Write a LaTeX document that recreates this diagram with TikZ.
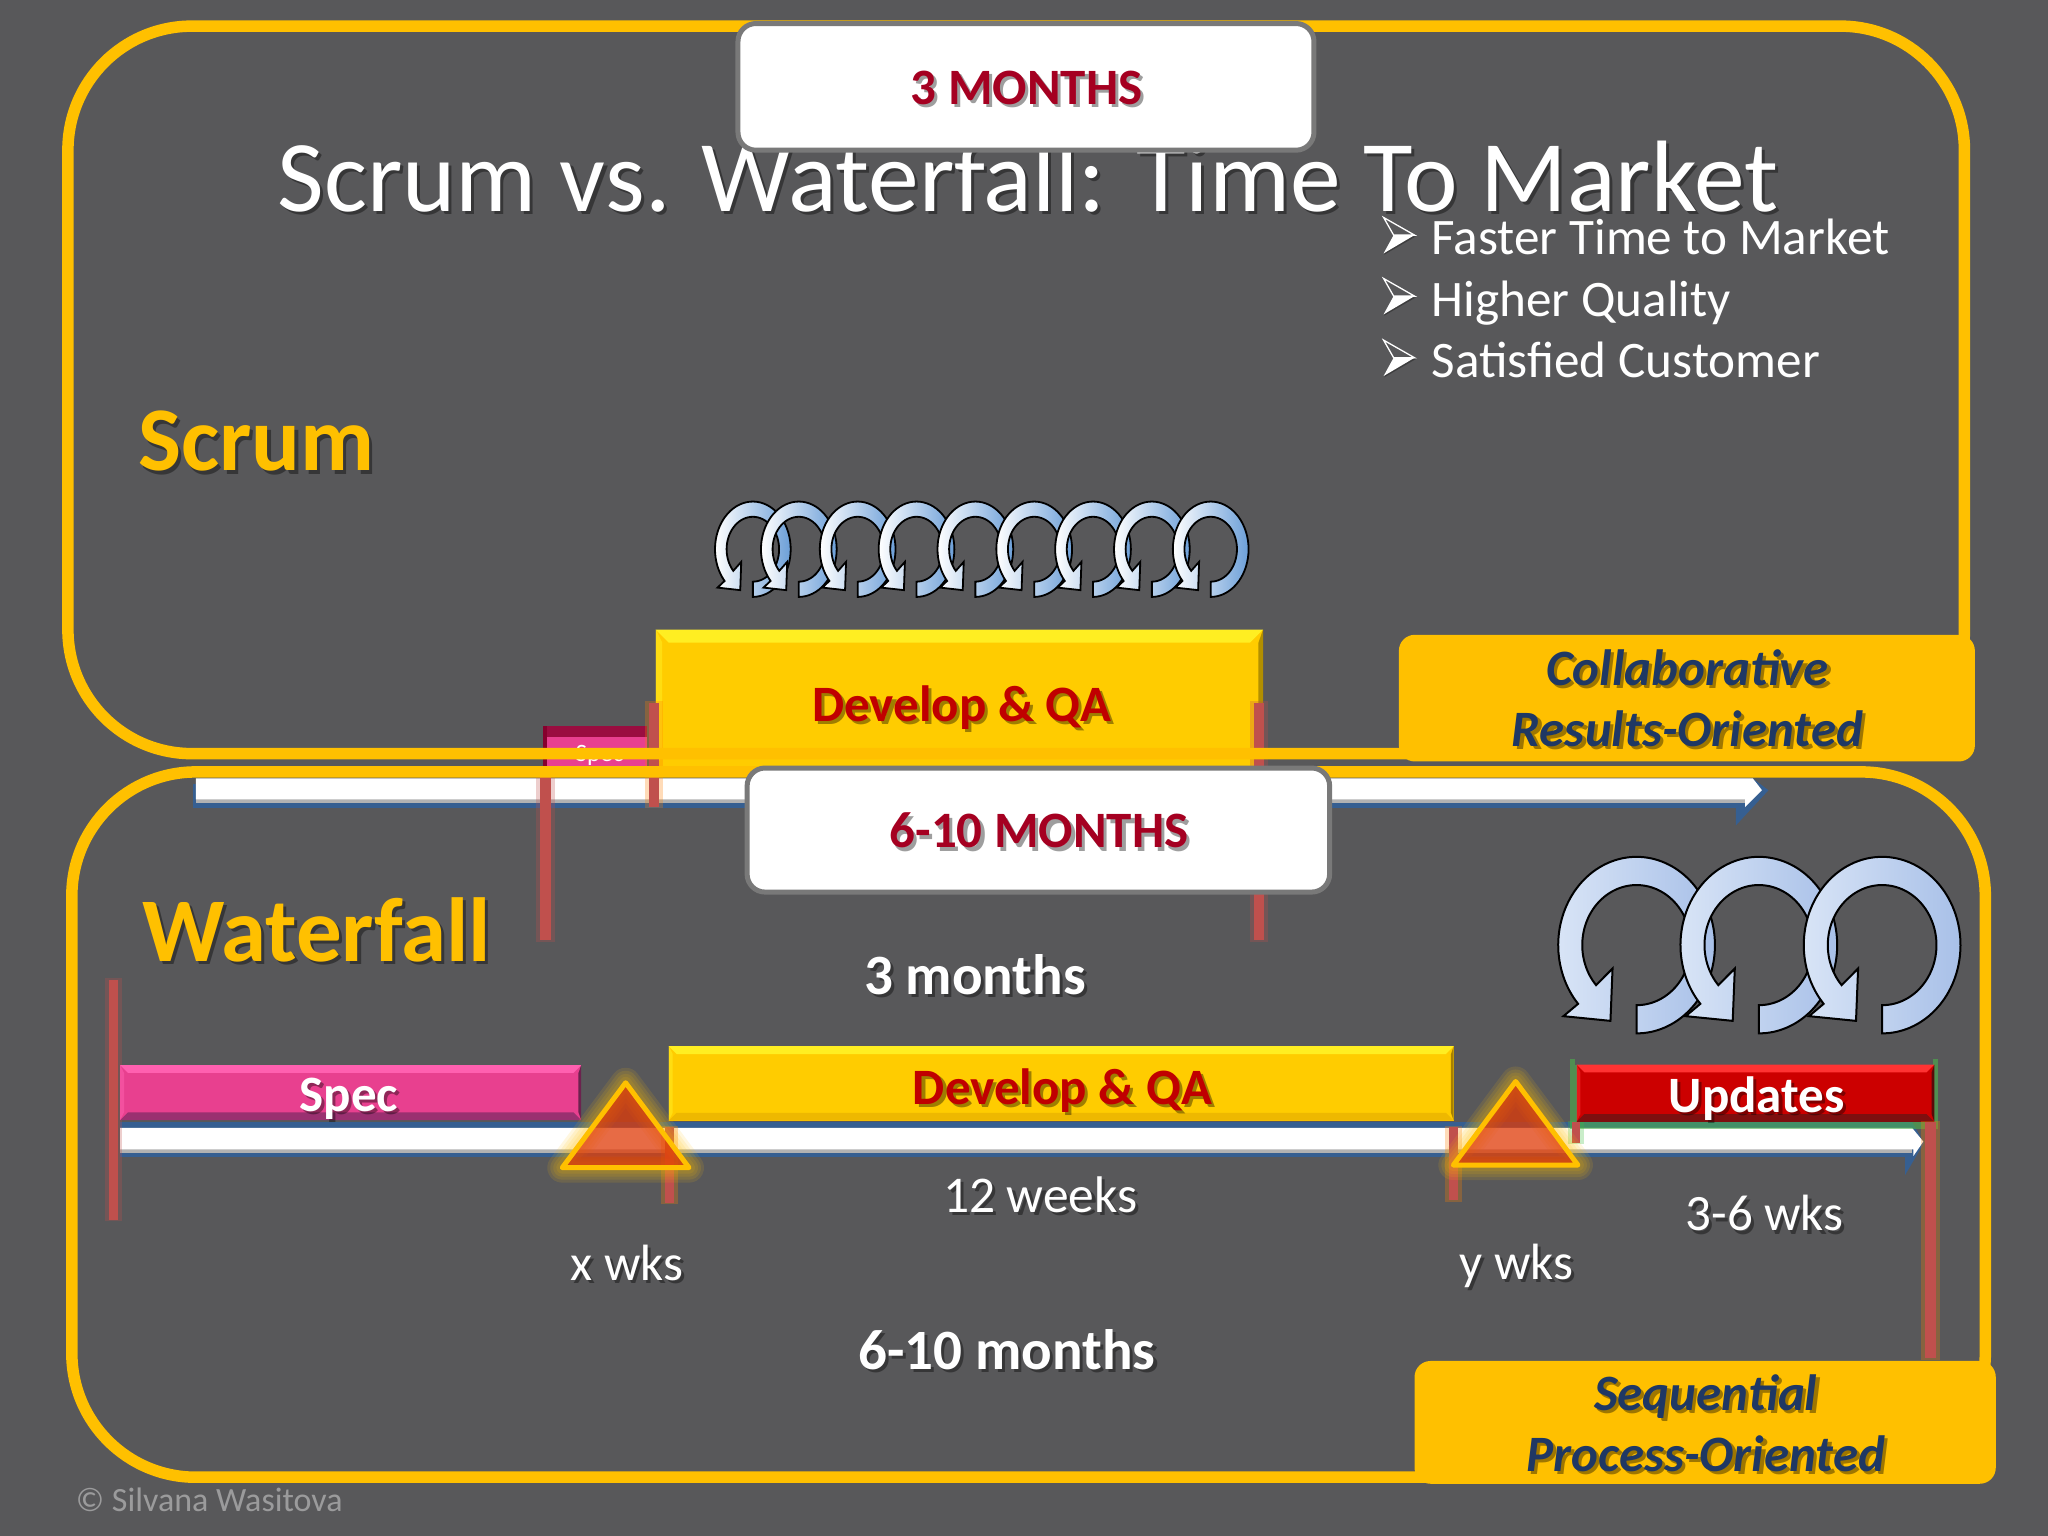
\documentclass[tikz,border=0pt]{standalone}
\usepackage{fontspec}
\setmainfont{Carlito}
\usetikzlibrary{shapes.geometric}
\definecolor{bgc}{HTML}{58585A}
\definecolor{gold}{HTML}{FFC000}
\definecolor{navy}{HTML}{1F3864}
\definecolor{tlblue}{HTML}{365F91}
\definecolor{mile}{HTML}{C0504D}
\definecolor{crim}{HTML}{A50021}
\definecolor{dred}{HTML}{C00000}
\definecolor{ylw}{HTML}{FFCC00}
\definecolor{ylwtop}{HTML}{FFEE22}
\definecolor{ylwbot}{HTML}{EEB800}
\definecolor{pnk}{HTML}{E8408F}
\definecolor{pnktop}{HTML}{FF60B0}
\definecolor{pnkbot}{HTML}{9A3070}
\definecolor{redm}{HTML}{CC0000}
\definecolor{redtop}{HTML}{FF3333}
\definecolor{redbot}{HTML}{7E0F0F}
\definecolor{blueL}{HTML}{D8E4F6}
\definecolor{blueR}{HTML}{A8C0E8}
\definecolor{blueS}{HTML}{6C9FD8}
\definecolor{tri}{HTML}{E03A08}
\tikzset{
  frame/.style={draw=gold,line width=11.5pt,rounded corners=124pt},
  whitebox/.style={draw=gray!95!black,fill=white,line width=5pt,rounded corners=18pt},
  goldbox/.style={fill=gold,rounded corners=16pt},
  lbl/.style={inner sep=0pt,text=white,anchor=center},
}
\newcommand\fs[1]{\fontsize{#1}{#1}\selectfont}
\newcommand\stext[6]{%
  \node[lbl,text=black,opacity=.38] (#1s) at (#2+2.4,#3+2.4) {#5#6};
  \node[lbl,text=#4] (#1) at (#2,#3) {#5#6};}
\newcommand\bevelbar[8]{%
  \fill[#5] (#1,#2) rectangle (#3,#4);
  \fill[#6] (#1,#2) -- (#3,#2) -- (#3-#8,#2+#8) -- (#1+#8,#2+#8) -- cycle;
  \fill[#7] (#1,#4) -- (#3,#4) -- (#3-#8,#4-#8) -- (#1+#8,#4-#8) -- cycle;
  \fill[#7!70!black] (#3,#2) -- (#3,#4) -- (#3-#8*0.35,#4-#8) -- (#3-#8*0.35,#2+#8) -- cycle;
  \fill[#6,opacity=.5] (#1,#2) -- (#1,#4) -- (#1+#8*0.5,#4-#8) -- (#1+#8*0.5,#2+#8) -- cycle;}
\newcommand\milestone[5]{%
  \draw[#5,opacity=.28,line width=#4*1.306pt+8pt] (#1,#2-1) -- (#1,#3+1);
  \draw[mile,line width=#4*1.306pt] (#1,#2) -- (#1,#3);}
\newcommand\circarrow[7]{%
  \begin{scope}[shift={(#1,#2)},xscale=#3,yscale=#4]
  \path[draw=black,line width=#7,line join=miter,left color=#5,right color=#6]
    plot[domain=90:-221.7,samples=60,smooth] ({60*cos(\x)},{67.6*sin(\x)})
    -- (-56,54.4) -- (-20,58) -- (-18.4,17.9)
    -- plot[domain=-221.8:90,samples=60,smooth] ({41.6*cos(\x)},{46*sin(\x)})
    -- cycle;
  \end{scope}}
\newcommand\bulletarrow[1]{%
  \begin{scope}[shift={(1083,#1)}]
  \fill[black,opacity=.3] (-23.2,15) -- (-16,1) -- (1,1) -- cycle;
  \fill[white] (-23.7,14) -- (-16,0) -- (0,0) -- cycle;
  \draw[white,line width=1.3pt,line join=miter] (-23.7,-13.5) -- (0,0) -- (-16,0) -- cycle;
  \end{scope}}
\begin{document}
\begin{tikzpicture}[x=1.30612pt,y=-1.30612pt]
\useasboundingbox (0,0) rectangle (1568,1176);
\fill[bgc] (0,0) rectangle (1568,1176);

% title and bullets
\stext{title}{787}{135}{white}{\fs{101.5}}{Scrum vs. Waterfall: Time To Market}
\bulletarrow{180}
\bulletarrow{226.7}
\bulletarrow{273.9}
\node[lbl,text=white,anchor=base west] (b1) at (1096,195) {\fs{51.2}Faster Time to Market};
\node[lbl,text=white,anchor=base west] (b2) at (1096,242) {\fs{51.2}Higher Quality};
\node[lbl,text=white,anchor=base west] (b3) at (1096,289) {\fs{51.2}Satisfied Customer};
\stext{scrum}{196.5}{338}{gold}{\fs{91}\bfseries}{Scrum}

% small circular arrows
\circarrow{576.4}{420.5}{.483}{.54}{white}{blueS}{1.8pt}
\foreach \i in {0,...,7} {\circarrow{611.6+45.05*\i}{420.5}{.483}{.54}{white}{blueS}{1.8pt}}

% scrum timeline
\fill[tlblue] (148,600) rectangle (1332,618.5);
\fill[tlblue] (1329,616) -- (1329,632) -- (1354,605) -- (1342,596) -- (1330,600) -- cycle;
\fill[gray!60] (150,608) rectangle (1336,615);
\fill[white] (150,596) -- (1342,596) -- (1349,605) -- (1336,618) -- (1336,612) -- (150,612) -- cycle;

% scrum bars
\fill[pnk] (416,556) rectangle (495,590);
\fill[purple!70!black!80!pnk] (416,556) rectangle (495,564);
\fill[purple!70!black] (416,556) rectangle (419,590);
\node[lbl] (spec0) at (459,578) {\fs{25}Spec};
\bevelbar{502}{482}{967}{588}{ylw}{ylwtop}{ylw}{10}
\stext{dev0}{736.5}{542}{dred}{\fs{51}\bfseries}{Develop \& QA}
\milestone{417.5}{592}{720}{8}{mile}
\milestone{500.6}{538}{618}{8}{orange}
\milestone{964}{538}{720}{8}{mile}

% waterfall bars
\stext{wf}{242.5}{712}{gold}{\fs{91}\bfseries}{Waterfall}
\stext{m3}{746.5}{746}{white}{\fs{57}\bfseries}{3 months}
\fill[tlblue] (92,859) rectangle (1459,886);
\fill[tlblue] (1458.6,859) -- (1464,859) -- (1473,875) -- (1458.6,899.6) -- cycle;
\fill[gray!60] (92,878) rectangle (1464,882.5);
\fill[white] (92,863.6) -- (1464,863.6) -- (1472.5,874) -- (1465,885) -- (1465,880) -- (92,880) -- cycle;
\milestone{87}{750}{934}{7}{mile}
\bevelbar{92}{815.5}{445}{857.6}{pnk}{pnktop}{pnkbot}{6}
\stext{spec}{267}{841}{white}{\fs{51}\bfseries}{Spec}
\milestone{512.5}{863}{921}{7}{orange}
\bevelbar{512}{801}{1113}{858}{ylw}{ylwtop}{ylwbot}{6}
\stext{dev}{813.5}{835}{dred}{\fs{51}\bfseries}{Develop \& QA}
\milestone{1113}{863}{919}{7}{orange}
\fill[green!40!gray,opacity=.6] (1202,811) rectangle (1484,864);
\fill[bgc] (1206,811) rectangle (1480,815);
\milestone{1206.5}{859}{875}{6}{green!50!gray}
\bevelbar{1207}{815}{1481}{859}{redm}{redtop}{redbot}{6}
\stext{upd}{1345}{841}{white}{\fs{51}\bfseries}{Updates}
\milestone{1478}{859}{1040}{8}{orange}

% triangles
\foreach \a/\b/\c/\d in {479/829/430.5/894,1160.4/828/1112.7/892} {
  \foreach \w in {30,24,18,12} {\draw[gold,opacity=.12,line width=\w pt,line join=round] (\a,\b) -- (\c,\d) -- (2*\a-\c,\d) -- cycle;}
  \draw[gold,fill=tri,fill opacity=.75,line width=5pt,line join=round] (\a,\b) -- (\c,\d) -- (2*\a-\c,\d) -- cycle;
}

% large circular arrows
\circarrow{1253}{723.6}{1}{1}{blueL}{blueR}{2pt}
\circarrow{1346.6}{723.6}{1}{1}{blueL}{blueR}{2pt}
\circarrow{1441}{723.6}{1}{1}{blueL}{blueR}{2pt}

% waterfall labels
\stext{w12}{796.5}{915}{white}{\fs{51.5}}{12 weeks}
\stext{wx}{480}{967}{white}{\fs{51}}{x wks}
\stext{wy}{1161}{969}{white}{\fs{51}}{y wks}
\stext{w36}{1351}{929}{white}{\fs{51}}{3-6 wks}
\stext{m610}{771}{1033}{white}{\fs{57}\bfseries}{6-10 months}
\node[lbl,text=white!40!bgc,anchor=west] (cr) at (58,1148) {\fs{34}© Silvana Wasitova};

% frames
\draw[frame] (52,20) rectangle (1504,577);
\draw[frame] (55,591) rectangle (1520,1131);

% white boxes
\draw[whitebox] (565,18) rectangle (1006,115);
\stext{t3}{786}{67}{crim}{\fs{51}\bfseries}{3 MONTHS}
\draw[whitebox] (572,588) rectangle (1018,683);
\stext{t610}{795.5}{636}{crim}{\fs{51}\bfseries}{6-10 MONTHS}

% gold boxes
\fill[goldbox] (1071,486) rectangle (1512,583);
\stext{c1}{1292}{511}{navy}{\fs{51}\bfseries\itshape}{Collaborative}
\stext{c2}{1292}{558}{navy}{\fs{51}\bfseries\itshape}{Results-Oriented}
\fill[goldbox] (1083,1042) rectangle (1528,1136);
\stext{s1}{1306}{1069}{navy}{\fs{51}\bfseries\itshape}{Sequential}
\stext{s2}{1306}{1113}{navy}{\fs{51}\bfseries\itshape}{Process-Oriented}
\end{tikzpicture}
\end{document}
